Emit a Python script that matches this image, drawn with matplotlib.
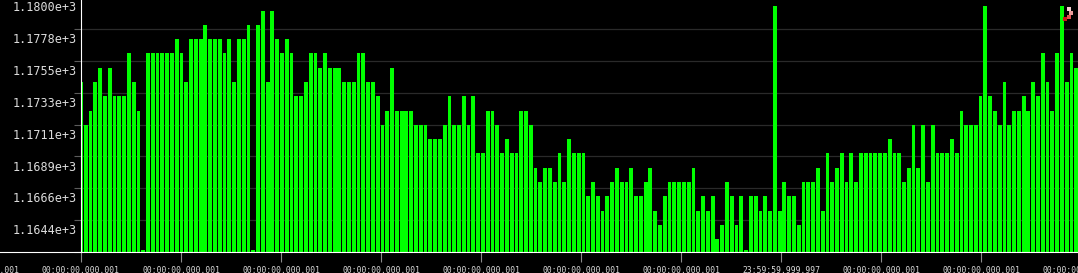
import numpy as np
import matplotlib
matplotlib.use('Agg')
import matplotlib.pyplot as plt
import matplotlib.transforms as mtransforms
from matplotlib.lines import Line2D

# one close per interval
closes = [
    1176.3, 1173.3, 1174.3, 1176.3, 1177.3, 1175.3, 1177.3, 1175.3, 1175.3, 1175.3,
    1178.3, 1176.3, 1174.3, 1164.55, 1178.3, 1178.3, 1178.3, 1178.3, 1178.3, 1178.3,
    1179.3, 1178.3, 1176.3, 1179.3, 1179.3, 1179.3, 1180.3, 1179.3, 1179.3, 1179.3,
    1178.3, 1179.3, 1176.3, 1179.3, 1179.3, 1180.3, 1164.55,
    1180.3, 1181.3, 1176.3, 1181.3, 1179.3, 1178.3, 1179.3, 1178.3, 1175.3, 1175.3,
    1176.3, 1178.3, 1178.3, 1177.3, 1178.3, 1177.3, 1177.3, 1177.3, 1176.3, 1176.3,
    1176.3, 1178.3, 1178.3, 1176.3, 1176.3, 1175.3, 1173.3, 1174.3, 1177.3, 1174.3,
    1174.3, 1174.3, 1174.3, 1173.3, 1173.3, 1173.3,
    1172.3, 1172.3, 1172.3, 1173.3, 1175.3, 1173.3, 1173.3, 1175.3, 1173.3, 1175.3,
    1171.3, 1171.3, 1174.3, 1174.3, 1173.3, 1171.3, 1172.3, 1171.3, 1171.3, 1174.3,
    1174.3, 1173.3, 1170.3, 1169.3, 1170.3, 1170.3, 1169.3, 1171.3, 1169.3, 1172.3,
    1171.3, 1171.3, 1171.3, 1168.3, 1169.3, 1168.3, 1167.3,
    1168.3, 1169.3, 1170.3, 1169.3, 1169.3, 1170.3, 1168.3, 1168.3, 1169.3, 1170.3,
    1167.3, 1166.3, 1168.3, 1169.3, 1169.3, 1169.3, 1169.3, 1169.3, 1170.3, 1167.3,
    1168.3, 1167.3, 1168.3, 1165.3, 1166.3, 1169.3, 1168.3, 1166.3, 1168.3, 1164.55,
    1168.3, 1168.3, 1167.3, 1168.3, 1167.3, 1181.6, 1167.3,
    1169.3, 1168.3, 1168.3, 1166.3, 1169.3, 1169.3, 1169.3, 1170.3, 1167.3, 1171.3,
    1169.3, 1170.3, 1171.3, 1169.3, 1171.3, 1169.3, 1171.3, 1171.3, 1171.3, 1171.3,
    1171.3, 1171.3, 1172.3, 1171.3, 1171.3, 1169.3, 1170.3, 1173.3, 1170.3, 1173.3,
    1169.3, 1173.3, 1171.3, 1171.3, 1171.3, 1172.3, 1171.3,
    1174.3, 1173.3, 1173.3, 1173.3, 1175.3, 1181.6, 1175.3, 1174.3, 1173.3, 1176.3,
    1173.3, 1174.3, 1174.3, 1175.3, 1174.3, 1176.3, 1175.3, 1178.3, 1176.3, 1174.3,
    1178.3, 1181.6, 1176.3, 1178.3, 1177.3,
]

y_ticks = [1164.4, 1166.6, 1168.9, 1171.1, 1173.3, 1175.5, 1177.8, 1180.0]
y_labels = [f'{v / 1000:.4f}e+3' for v in y_ticks]

# first one sits left of the y axis, last one off the right edge
time_labels = ['00:00:00.000.001'] * 8 + ['23:59:59.999.997'] + ['00:00:00.000.001'] * 3

W, H = 1078, 273
TICK_STEP = 20.9      # bars between time ticks
BAR_C = '#00ff00'
TXT_C = '#dcdcdc'
X_PAD = 3.2

plt.rcParams['font.family'] = ['DejaVu Sans Mono']

fig = plt.figure(figsize=(W / 100, H / 100), dpi=100, facecolor='black')
ax = fig.add_axes([81 / W, 21 / H, (1082 - 81) / W, 252 / H], facecolor='black')

x = np.arange(len(closes))
ax.bar(x, closes, width=0.8, color=BAR_C, linewidth=0, zorder=2)
ax.set_xlim(0, 209.2)
ax.set_ylim(1164.49, 1182.04)

# grid / y ticks
grid_pos = np.linspace(y_ticks[0], y_ticks[-1], len(y_ticks))
ax.set_yticks(grid_pos)
ax.set_axisbelow(True)
ax.yaxis.grid(True, color='#2a2a2a', lw=0.9)
ax.tick_params(axis='y', length=5, width=0.8, color='#5c5c5c', labelleft=False)

# y labels are drawn a bit above their lines
off = mtransforms.ScaledTranslation(-0.04, 0.213, fig.dpi_scale_trans)
for v, lab in zip(grid_pos, y_labels):
    ax.text(0, v, lab, transform=ax.get_yaxis_transform() + off,
            ha='right', va='center', fontsize=8.5, color=TXT_C, clip_on=False)

# time axis
xt = np.arange(0, 209.2, TICK_STEP)
ax.set_xticks(xt)
ax.set_xticklabels(time_labels[1:len(xt) + 1])
ax.tick_params(axis='x', length=7.2, width=0.8, color='#8a8a8a',
               labelcolor=TXT_C, labelsize=5.8, pad=X_PAD)
xoff = mtransforms.ScaledTranslation(0, -(7.2 + X_PAD) / 72, fig.dpi_scale_trans)
ax.text(-TICK_STEP, 0, time_labels[0], transform=ax.get_xaxis_transform() + xoff,
        ha='center', va='top', fontsize=5.8, color=TXT_C, clip_on=False)

for s in ['top', 'right']:
    ax.spines[s].set_visible(False)
for s in ['left', 'bottom']:
    ax.spines[s].set_color('white')
    ax.spines[s].set_linewidth(0.8)
fig.add_artist(Line2D([0, 81 / W], [21 / H, 21 / H], transform=fig.transFigure,
                      color='white', lw=0.8))

# small cursor glyph in the top right corner
cur_px = [(1069, 9), (1071, 13), (1069, 17), (1065, 19)]
cur_c = ['#f6d0d0', '#ec9c9c', '#e05050', '#cc1818']
for (px, py), c in zip(cur_px, cur_c):
    fig.add_artist(Line2D([px / W], [1 - py / H], transform=fig.transFigure,
                          marker='s', ms=2.4, mew=0, color=c))

fig.savefig('out.png', dpi=100, facecolor='black')
